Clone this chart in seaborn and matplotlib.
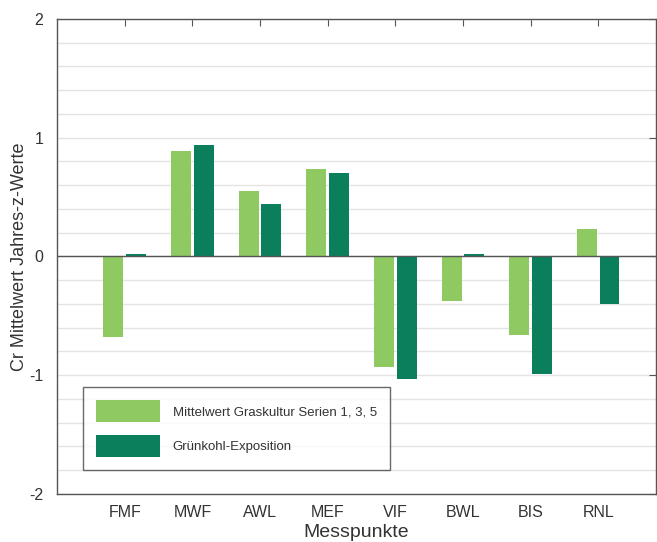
import matplotlib
matplotlib.use("Agg")
import matplotlib.pyplot as plt
from matplotlib.ticker import MultipleLocator
import pandas as pd
import seaborn as sns

# Messpunkte und Werte
sites = ["FMF", "MWF", "AWL", "MEF", "VIF", "BWL", "BIS", "RNL"]
gras = [-0.68, 0.89, 0.55, 0.74, -0.93, -0.38, -0.66, 0.23]
gruenkohl = [0.02, 0.94, 0.44, 0.70, -1.03, 0.02, -0.99, -0.40]
series = ["Mittelwert Graskultur Serien 1, 3, 5", "Grünkohl-Exposition"]
colors = ["#8fc962", "#0b7e5b"]


def build_frame():
    rows = []
    for s, g, k in zip(sites, gras, gruenkohl):
        rows.append({"Messpunkt": s, "Serie": series[0], "Wert": g})
        rows.append({"Messpunkt": s, "Serie": series[1], "Wert": k})
    return pd.DataFrame(rows)


def plot_chart(df):
    sns.set_style("white")
    plt.rcParams["font.family"] = ["Liberation Sans", "DejaVu Sans"]
    plt.rcParams["axes.unicode_minus"] = False
    fig = plt.figure(figsize=(6.57, 5.42), dpi=100)
    ax = fig.add_axes([0.087, 0.089, 0.911, 0.876])

    sns.barplot(data=df, x="Messpunkt", y="Wert", hue="Serie", palette=colors,
                width=0.67, gap=0.12, saturation=1, linewidth=0, ax=ax, zorder=3)

    ax.set_ylim(-2, 2)
    ax.set_xlim(-1, 7.85)
    ax.yaxis.set_major_locator(MultipleLocator(1))
    ax.yaxis.set_minor_locator(MultipleLocator(0.2))
    ax.grid(which="both", axis="y", color="#e4e4e4", linewidth=1, zorder=0)
    ax.axhline(0, color="#555555", linewidth=1, zorder=4)

    ax.tick_params(axis="both", which="both", direction="in", length=5,
                   color="#555555", labelsize=11.5, labelcolor="#333333",
                   top=True, right=True)
    ax.tick_params(axis="y", which="minor", length=0)
    ax.tick_params(axis="x", pad=8)
    ax.tick_params(axis="y", pad=10)
    for sp in ax.spines.values():
        sp.set_color("#555555")
        sp.set_linewidth(1)

    ax.set_xlabel("Messpunkte", fontsize=14, color="#333333", labelpad=3)
    ax.set_ylabel("Cr Mittelwert Jahres-z-Werte", fontsize=13, color="#333333", labelpad=1)

    leg = ax.legend(loc="lower left", bbox_to_anchor=(0.043, 0.05), borderaxespad=0,
                    fontsize=9.5, handlelength=4.85, handleheight=2.15, labelspacing=1.0,
                    handletextpad=0.95, borderpad=1.0, fancybox=False, frameon=True)
    leg.get_frame().set_edgecolor("#444444")
    leg.get_frame().set_linewidth(1)
    leg.set_zorder(5)
    for t in leg.get_texts():
        t.set_color("#333333")

    fig.savefig("out.png", dpi=100)


def main():
    df = build_frame()
    plot_chart(df)


if __name__ == "__main__":
    main()
